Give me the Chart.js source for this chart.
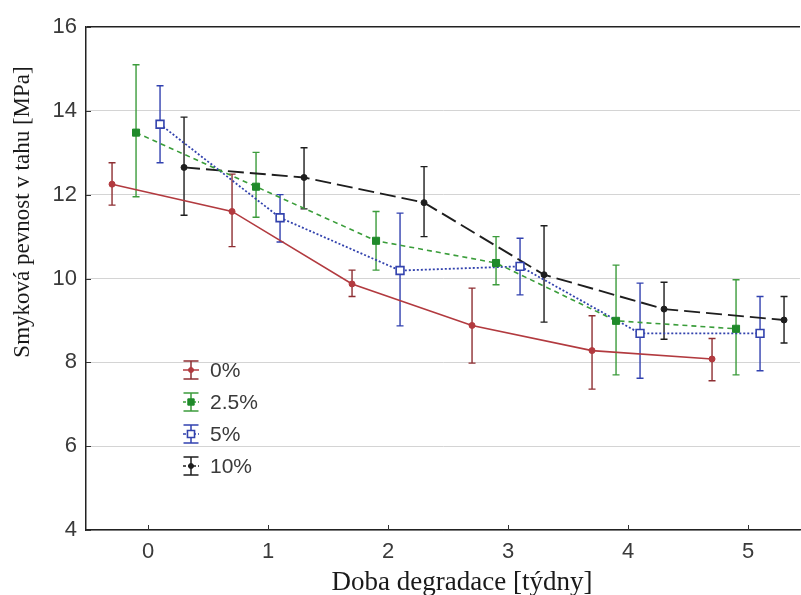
<!DOCTYPE html>
<html>
<head>
<meta charset="utf-8">
<script src="https://cdn.jsdelivr.net/npm/chart.js@4.4.3/dist/chart.umd.min.js"></script>
<style>
  html, body { margin: 0; padding: 0; background: #fff; overflow: hidden; }
  canvas { display: block; }
</style>
</head>
<body>
<canvas id="chart" width="801" height="595" style="width:801px;height:595px"></canvas>
<script>
// weeks of degradation and the tick labels
const weeks = [0, 1, 2, 3, 4, 5];
const xTicks = [0, 1, 2, 3, 4, 5];
const yTicks = [4, 6, 8, 10, 12, 14, 16];
const seriesNames = ["0%", "2.5%", "5%", "10%"];

// mean shear strength [MPa] and error bar ends, per series
const mean0 = [12.25, 11.6, 9.87, 8.88, 8.28, 8.08];
const lo0 = [11.75, 10.76, 9.57, 7.98, 7.36, 7.56];
const hi0 = [12.76, 12.49, 10.2, 9.77, 9.11, 8.57];

const mean25 = [13.48, 12.19, 10.9, 10.37, 8.99, 8.8];
const lo25 = [11.95, 11.46, 10.2, 9.85, 7.7, 7.7];
const hi25 = [15.1, 13.01, 11.6, 11.0, 10.32, 9.97];

const mean5 = [13.68, 11.45, 10.19, 10.29, 8.69, 8.69];
const lo5 = [12.76, 10.87, 8.87, 9.61, 7.62, 7.8];
const hi5 = [14.6, 12.0, 11.56, 10.96, 9.89, 9.57];

const mean10 = [12.65, 12.41, 11.81, 10.09, 9.27, 9.01];
const lo10 = [11.51, 11.66, 11.0, 8.96, 8.55, 8.46];
const hi10 = [13.85, 13.12, 12.67, 11.26, 9.91, 9.57];

// horizontal dodge of each series around the week value
const dodge = [-0.3, -0.1, 0.1, 0.3];

const styles = [
  { line: "#b23a3f", bar: "#8e2f33", fill: "#b23a3f", dash: [], width: 1.6, point: "circle", r: 3 },
  { line: "#3a9d3a", bar: "#3c9c3c", fill: "#1f8a2a", dash: [5, 4], width: 1.6, point: "rect", r: 5 },
  { line: "#3242ad", bar: "#3242b0", fill: "#ffffff", dash: [2, 2], width: 1.8, point: "rect", r: 5.5 },
  { line: "#1e1e1e", bar: "#1e1e1e", fill: "#1e1e1e", dash: [16, 6], width: 1.9, point: "circle", r: 3 },
];

const means = [mean0, mean25, mean5, mean10];
const lows = [lo0, lo25, lo5, lo10];
const highs = [hi0, hi25, hi5, hi10];

function points(si) {
  return weeks.map((w, i) => ({ x: w + dodge[si], y: means[si][i] }));
}

const datasets = seriesNames.map((name, si) => {
  const st = styles[si];
  return {
    label: name,
    data: points(si),
    borderColor: st.line,
    borderWidth: st.width,
    borderDash: st.dash,
    tension: 0,
    pointStyle: st.point,
    pointRadius: st.r,
    pointBackgroundColor: st.fill,
    pointBorderColor: si === 2 ? st.line : st.fill,
    pointBorderWidth: si === 2 ? 1.6 : 1,
    fill: false,
  };
});

// let the plot run to the right edge of the canvas, as in the source figure
const stretchRight = {
  id: "stretchRight",
  afterLayout(chart) {
    const x = chart.scales.x;
    const right = chart.width - 1;
    chart.chartArea.right = right;
    chart.chartArea.width = right - chart.chartArea.left;
    x.right = right;
    x.width = right - x.left;
    x.configure();
  },
};

// vertical error bars drawn through the chart scales
const errorBars = {
  id: "errorBars",
  beforeDatasetsDraw(chart) {
    const { ctx, scales: { x, y } } = chart;
    ctx.save();
    seriesNames.forEach((_, si) => {
      ctx.strokeStyle = styles[si].bar;
      ctx.lineWidth = 1.4;
      weeks.forEach((w, i) => {
        const px = x.getPixelForValue(w + dodge[si]);
        const top = y.getPixelForValue(highs[si][i]);
        const bot = y.getPixelForValue(lows[si][i]);
        ctx.beginPath();
        ctx.moveTo(px, top); ctx.lineTo(px, bot);
        ctx.moveTo(px - 3.5, top); ctx.lineTo(px + 3.5, top);
        ctx.moveTo(px - 3.5, bot); ctx.lineTo(px + 3.5, bot);
        ctx.stroke();
      });
    });
    ctx.restore();
  },
};

// titles, inner ticks and the in-plot legend
const decorations = {
  id: "decorations",
  afterDraw(chart) {
    const { ctx, scales: { x, y }, chartArea } = chart;
    ctx.save();
    ctx.strokeStyle = "#333";
    ctx.lineWidth = 1;
    xTicks.forEach((t) => {
      const px = Math.round(x.getPixelForValue(t)) + 0.5;
      ctx.beginPath();
      ctx.moveTo(px, chartArea.bottom);
      ctx.lineTo(px, chartArea.bottom - 5);
      ctx.stroke();
    });
    yTicks.forEach((t) => {
      const py = Math.round(y.getPixelForValue(t)) + 0.5;
      ctx.beginPath();
      ctx.moveTo(chartArea.left, py);
      ctx.lineTo(chartArea.left + 5, py);
      ctx.stroke();
    });

    ctx.fillStyle = "#1a1a1a";
    ctx.font = "27px 'Liberation Serif', 'Times New Roman', serif";
    ctx.textAlign = "center";
    ctx.textBaseline = "alphabetic";
    ctx.fillText("Doba degradace [týdny]", 462, 590);
    ctx.save();
    ctx.font = "23px 'Liberation Serif', 'Times New Roman', serif";
    ctx.translate(23, 212);
    ctx.rotate(-Math.PI / 2);
    ctx.textBaseline = "middle";
    ctx.fillText("Smyková pevnost v tahu [MPa]", 0, 0);
    ctx.restore();

    // legend
    const lx = 191, ly = 370, step = 32;
    seriesNames.forEach((name, si) => {
      const st = styles[si];
      const cy = ly + si * step;
      ctx.strokeStyle = st.bar;
      ctx.lineWidth = 1.5;
      ctx.setLineDash([]);
      ctx.beginPath();
      ctx.moveTo(lx, cy - 9); ctx.lineTo(lx, cy + 9);
      ctx.moveTo(lx - 7.5, cy - 9); ctx.lineTo(lx + 7.5, cy - 9);
      ctx.moveTo(lx - 7.5, cy + 9); ctx.lineTo(lx + 7.5, cy + 9);
      ctx.stroke();
      ctx.strokeStyle = st.line;
      ctx.setLineDash(st.dash.length ? [3, 2] : []);
      ctx.beginPath();
      ctx.moveTo(lx - 8, cy); ctx.lineTo(lx + 8, cy);
      ctx.stroke();
      ctx.setLineDash([]);
      ctx.fillStyle = st.fill;
      ctx.strokeStyle = si === 2 ? st.line : st.fill;
      ctx.lineWidth = si === 2 ? 1.6 : 1;
      Chart.helpers.drawPoint(ctx, { pointStyle: st.point, radius: st.r - 0.5, rotation: 0, borderWidth: ctx.lineWidth }, lx, cy);
      ctx.fillStyle = "#3a3a3a";
      ctx.font = "21px 'Liberation Sans', Arial, sans-serif";
      ctx.textAlign = "left";
      ctx.textBaseline = "middle";
      ctx.fillText(name, 210, cy + 1);
    });
    ctx.restore();
  },
};

new Chart(document.getElementById("chart"), {
  type: "line",
  data: { datasets },
  options: {
    responsive: false,
    animation: false,
    devicePixelRatio: 1,
    layout: { padding: { top: 27, right: 1, left: 0, bottom: 0 } },
    plugins: { legend: { display: false }, tooltip: { enabled: false } },
    scales: {
      x: {
        type: "linear",
        min: -0.517,
        max: 5.433,
        afterFit: (s) => { s.height = 65; s.paddingLeft = 0; s.paddingRight = 0; },
        afterBuildTicks: (s) => { s.ticks = xTicks.map((v) => ({ value: v })); },
        grid: { drawOnChartArea: false, drawTicks: false },
        border: { color: "#222", width: 1.5 },
        ticks: {
          padding: 9,
          color: "#3a3a3a",
          font: { family: "'Liberation Sans', Arial, sans-serif", size: 22 },
          maxRotation: 0,
        },
      },
      y: {
        type: "linear",
        min: 4,
        max: 16,
        afterFit: (s) => { s.width = 86; s.paddingTop = 0; s.paddingBottom = 0; },
        afterBuildTicks: (s) => { s.ticks = yTicks.map((v) => ({ value: v })); },
        grid: {
          color: (c) => (c.tick && c.tick.value === 16 ? "#222" : "#d4d4d4"),
          drawTicks: false,
          lineWidth: (c) => (c.tick && c.tick.value === 16 ? 1.5 : 1),
        },
        border: { color: "#222", width: 1.5 },
        ticks: {
          padding: 9,
          color: "#3a3a3a",
          font: { family: "'Liberation Sans', Arial, sans-serif", size: 22 },
        },
      },
    },
  },
  plugins: [stretchRight, errorBars, decorations],
});
</script>
</body>
</html>
